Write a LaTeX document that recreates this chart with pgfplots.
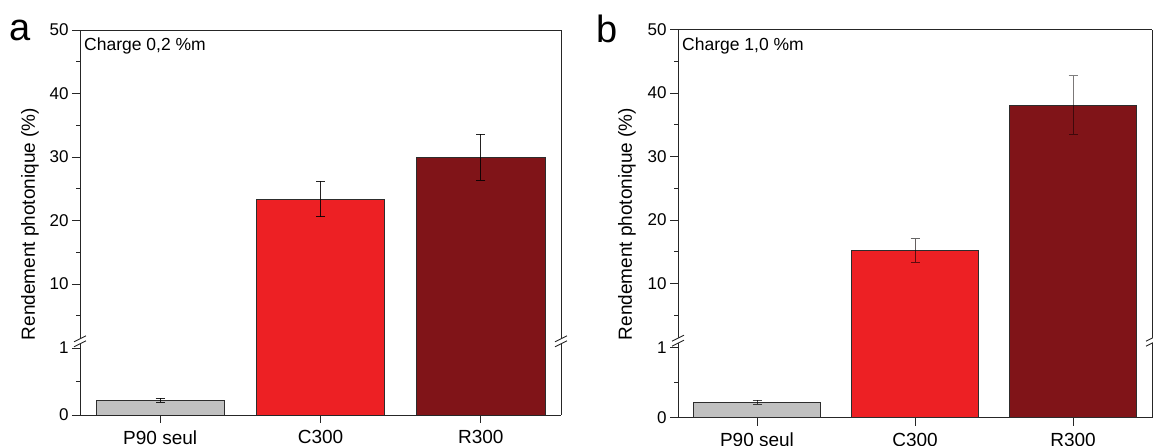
\documentclass[border=0pt]{standalone}
\usepackage{fontspec}
\setmainfont{Liberation Sans}
\usepackage{pgfplots}
\pgfplotsset{compat=1.18}
\usetikzlibrary{calc}
\definecolor{barGray}{RGB}{192,192,192}
\definecolor{barRed}{RGB}{237,32,36}
\definecolor{barDark}{RGB}{128,20,24}
\definecolor{edgec}{RGB}{45,45,45}

\pgfplotsset{
  common/.style={
    scale only axis, xmin=-0.5, xmax=2.5, clip=true,
    axis line style={-, draw=black!85, line width=0.9pt},
    tick style={draw=black!85, line width=0.9pt},
    major tick length=8pt, minor tick length=4pt, tick align=outside,
    /pgf/number format/assume math mode=true,
    yticklabel style={font=\fontsize{17}{20}\selectfont},
    xticklabel style={font=\fontsize{19}{22}\selectfont, yshift=-4pt},
    axis y line*=box, ytick pos=left,
  },
  lower/.style={common, axis x line*=bottom, ymin=0,
    ytick={0,1}, minor ytick={0.5},
    xtick={0,1,2}, xticklabels={P90 seul, C300, R300}},
  upper/.style={common, axis x line*=top, xtick=\empty, ymin=1, ymax=50,
    ytick={10,20,30,40,50}, minor ytick={5,15,25,35,45}},
  barst/.style={ybar, bar width=0.8, bar shift=0pt, draw=edgec, line width=0.8pt},
  errst/.style={error bars/.cd, y dir=both, y explicit, error mark=-,
    error bar style={line width=0.9pt, draw=black, opacity=#1},
    error mark options={line width=0.9pt, draw=black, opacity=#1, rotate=90, mark size=4.5pt}},
}

\newcommand{\brk}[2]{%
  \fill[white] ($(#1,#2)+(-6pt,-5.5pt)$) -- ($(#1,#2)+(6pt,0.5pt)$) -- ($(#1,#2)+(6pt,5.5pt)$) -- ($(#1,#2)+(-6pt,-0.5pt)$) -- cycle;
  \draw[black!85, line width=0.9pt] ($(#1,#2)+(-6pt,-5.5pt)$) -- ($(#1,#2)+(6pt,0.5pt)$);
  \draw[black!85, line width=0.9pt] ($(#1,#2)+(-6pt,-0.5pt)$) -- ($(#1,#2)+(6pt,5.5pt)$);
}

\begin{document}
\begin{tikzpicture}[x=1pt,y=1pt]
\useasboundingbox (0,0) rectangle (1153,446);

% ---------- Panel a ----------
\begin{axis}[upper, at={(80pt,104.7pt)}, anchor=south west, width=481pt, height=311.15pt]
\addplot[barst, fill=barRed, errst=0.85] coordinates {(1,23.4) +- (0,2.8)};
\addplot[barst, fill=barDark, errst=0.85] coordinates {(2,30.0) +- (0,3.6)};
\end{axis}
\begin{axis}[lower, ymax=1.1224, at={(80pt,31pt)}, anchor=south west, width=481pt, height=75.2pt]
\addplot[barst, fill=barGray, errst=0.85] coordinates {(0,0.22) +- (0,0.03)};
\addplot[barst, fill=barRed] coordinates {(1,23.4)};
\addplot[barst, fill=barDark] coordinates {(2,30.0)};
\end{axis}
\brk{80}{104.7}
\brk{561}{104.7}
\node[rotate=90, font=\fontsize{19}{22}\selectfont] at (30,222) {Rendement photonique (\%)};
\node[anchor=base west, inner sep=0pt, font=\fontsize{17.5}{20}\selectfont] at (84,395) {Charge 0,2 \%m};
\node[anchor=base, font=\fontsize{38}{40}\selectfont] at (20,405) {a};

% ---------- Panel b ----------
\begin{axis}[upper, at={(678pt,105.3pt)}, anchor=south west, width=474pt, height=311.15pt]
\addplot[barst, fill=barRed, errst=0.6] coordinates {(1,15.2) +- (0,1.85)};
\addplot[barst, fill=barDark, errst=0.5] coordinates {(2,38.1) +- (0,4.6)};
\end{axis}
\begin{axis}[lower, ymax=1.1214, at={(678pt,28.3pt)}, anchor=south west, width=474pt, height=78.5pt]
\addplot[barst, fill=barGray, errst=0.7] coordinates {(0,0.22) +- (0,0.03)};
\addplot[barst, fill=barRed] coordinates {(1,15.2)};
\addplot[barst, fill=barDark] coordinates {(2,38.1)};
\end{axis}
\brk{678}{105.3}
\brk{1152}{105.3}
\node[rotate=90, font=\fontsize{19}{22}\selectfont] at (627,222) {Rendement photonique (\%)};
\node[anchor=base west, inner sep=0pt, font=\fontsize{17.5}{20}\selectfont] at (682,395) {Charge 1,0 \%m};
\node[anchor=base, font=\fontsize{38}{40}\selectfont] at (607,403) {b};
\end{tikzpicture}
\end{document}
